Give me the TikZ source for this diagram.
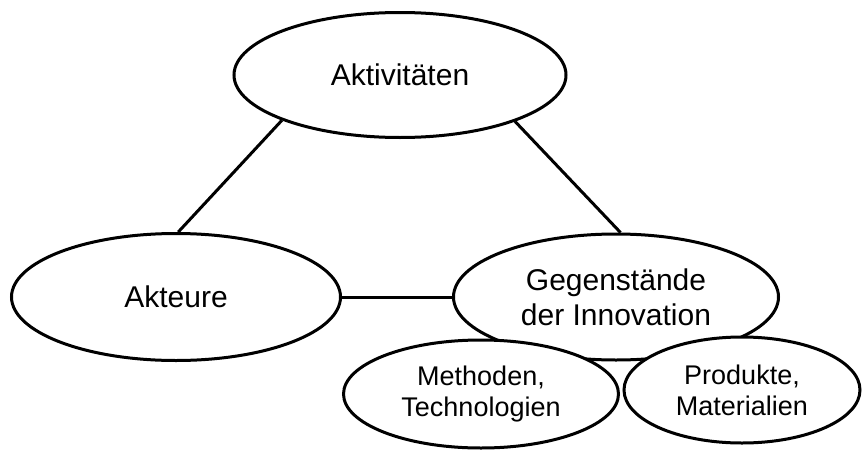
\documentclass[tikz,border=0pt]{standalone}
\usepackage{fontspec}
\setmainfont{Liberation Sans}
\usetikzlibrary{shapes.geometric}
\begin{document}
\begin{tikzpicture}[x=1pt,y=-1pt,
  oval/.style={ellipse,draw,line width=3pt,inner sep=0pt,align=center},
  bigtext/.style={font=\fontsize{30}{35}\selectfont},
  smalltext/.style={font=\fontsize{27}{31}\selectfont},
  link/.style={line width=3pt}]
\useasboundingbox (0,0) rectangle (863,450);
\node[oval,bigtext,minimum width=332,minimum height=125] (akt) at (400,75) {Aktivitäten};
\node[oval,bigtext,minimum width=329,minimum height=127] (akteure) at (176,297) {Akteure};
\node[oval,bigtext,minimum width=325,minimum height=126] (geg) at (616,297) {Gegenstände\\der Innovation};
\node[oval,smalltext,fill=white,minimum width=275,minimum height=108] (meth) at (481,394) {Methoden,\\Technologien};
\node[oval,smalltext,fill=white,minimum width=236,minimum height=106] (prod) at (742,390) {Produkte,\\Materialien};
\draw[link] (akt.201.7) -- (akteure.88);
\draw[link] (akt.338) -- (geg.86.4);
\draw[link] (akteure.east) -- (geg.west);
\end{tikzpicture}
\end{document}
